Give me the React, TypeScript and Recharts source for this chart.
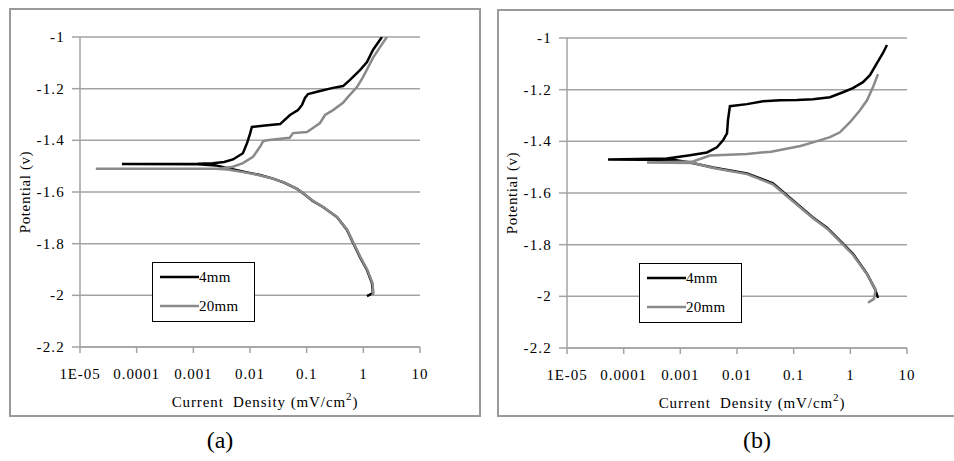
import React from 'react';
import { LineChart, Line, XAxis, YAxis, CartesianGrid, Legend } from 'recharts';

// ---- axis ticks & labels ----
const xTicks = [1e-5, 1e-4, 1e-3, 1e-2, 1e-1, 1, 10];
const xTickLabels = ['1E-05', '0.0001', '0.001', '0.01', '0.1', '1', '10'];
const yTicks = [-2.2, -2, -1.8, -1.6, -1.4, -1.2, -1];
const yTickLabels = ['-2.2', '-2', '-1.8', '-1.6', '-1.4', '-1.2', '-1'];
const seriesNames = ['4mm', '20mm'];
const seriesColors = ['#000000', '#8a8a8a'];
const panelCaptions = ['(a)', '(b)'];

// ---- panel (a), 4mm ----
const a4Current = [1.16, 1.48, 1.42, 1.16, 0.873, 0.66, 0.515, 0.343, 0.194, 0.128, 0.09, 0.0675, 0.04, 0.0255, 0.015, 0.00885, 0.0039, 0.0025, 0.0012, 0.000055, 0.0012, 0.0022, 0.0035, 0.005, 0.0075, 0.0089, 0.0100, 0.0108, 0.0184, 0.034, 0.0508, 0.0703, 0.0828, 0.0933, 0.1057, 0.172, 0.292, 0.438, 0.582, 0.873, 1.16, 1.48, 2.13];
const a4Potential = [-2.003, -1.991, -1.952, -1.902, -1.852, -1.797, -1.747, -1.697, -1.658, -1.635, -1.608, -1.588, -1.564, -1.548, -1.534, -1.524, -1.507, -1.497, -1.493, -1.492, -1.491, -1.489, -1.484, -1.474, -1.45, -1.41, -1.375, -1.348, -1.343, -1.337, -1.302, -1.283, -1.263, -1.236, -1.221, -1.209, -1.197, -1.19, -1.166, -1.128, -1.097, -1.05, -1.0];

// ---- panel (a), 20mm ----
const a20Current = [1.45, 1.5, 1.45, 1.18, 0.89, 0.67, 0.52, 0.345, 0.195, 0.125, 0.088, 0.065, 0.039, 0.024, 0.014, 0.0085, 0.004, 0.0025, 0.000019, 0.003, 0.005, 0.0075, 0.0113, 0.015, 0.017, 0.02, 0.05, 0.0575, 0.101, 0.129, 0.172, 0.211, 0.292, 0.438, 0.537, 0.773, 0.987, 1.48, 1.97, 2.61];
const a20Potential = [-2.0, -1.99, -1.952, -1.902, -1.852, -1.797, -1.747, -1.697, -1.658, -1.632, -1.606, -1.586, -1.562, -1.547, -1.534, -1.525, -1.513, -1.51, -1.51, -1.509, -1.502, -1.488, -1.464, -1.425, -1.404, -1.4, -1.39, -1.372, -1.368, -1.352, -1.333, -1.302, -1.283, -1.255, -1.232, -1.194, -1.155, -1.081, -1.039, -1.0];

// ---- panel (b), 4mm ----
const b4Current = [3.08, 2.72, 1.97, 1.11, 0.656, 0.387, 0.219, 0.0973, 0.0432, 0.015, 0.00377, 0.00148, 0.0008, 0.000053, 0.00058, 0.00148, 0.00295, 0.00443, 0.00566, 0.00666, 0.00693, 0.0075, 0.015, 0.0288, 0.0575, 0.1146, 0.219, 0.438, 0.741, 1.11, 1.67, 2.22, 2.95, 3.77, 4.43];
const b4Potential = [-2.006, -1.971, -1.913, -1.835, -1.784, -1.734, -1.695, -1.629, -1.563, -1.524, -1.501, -1.482, -1.472, -1.47, -1.466, -1.454, -1.443, -1.423, -1.396, -1.369, -1.318, -1.264, -1.256, -1.245, -1.241, -1.24, -1.237, -1.229, -1.21, -1.194, -1.171, -1.144, -1.097, -1.058, -1.027];

// ---- panel (b), 20mm ----
const b20Current = [2.05, 2.6, 2.8, 2.0, 1.12, 0.66, 0.39, 0.22, 0.097, 0.043, 0.015, 0.0038, 0.0017, 0.000258, 0.00167, 0.00334, 0.015, 0.04, 0.1318, 0.219, 0.438, 0.656, 0.987, 1.48, 1.97, 2.51, 3.08];
const b20Potential = [-2.025, -2.01, -1.975, -1.917, -1.84, -1.788, -1.738, -1.698, -1.632, -1.566, -1.527, -1.503, -1.484, -1.482, -1.478, -1.455, -1.449, -1.44, -1.418, -1.404, -1.384, -1.365, -1.326, -1.28, -1.241, -1.19, -1.14];

type Pt = { x: number; v: number };
const toPoints = (c: number[], p: number[]): Pt[] => c.map((x, i) => ({ x, v: p[i] }));

const panels = [
  { series: [toPoints(a4Current, a4Potential), toPoints(a20Current, a20Potential)] },
  { series: [toPoints(b4Current, b4Potential), toPoints(b20Current, b20Potential)] },
];

const FONT = "'Liberation Serif', serif";
const GRID = '#a3a3a3';
const txt = (size: number, ls: number) => ({ fontFamily: FONT, fontSize: size, letterSpacing: ls, fill: '#000' });

const fmtX = (v: number) => {
  const i = xTicks.findIndex((t) => Math.abs(Math.log10(t) - Math.log10(v)) < 1e-6);
  return i >= 0 ? xTickLabels[i] : String(v);
};
const fmtY = (v: number) => {
  const i = yTicks.findIndex((t) => Math.abs(t - v) < 1e-6);
  return i >= 0 ? yTickLabels[i] : String(v);
};

const XTick = (props: any) => {
  const { x, y, payload } = props;
  return (
    <text x={x} y={y + 12} textAnchor="middle" style={txt(15, 0.9)}>
      {fmtX(payload.value)}
    </text>
  );
};
const YTick = (props: any) => {
  const { x, y, payload } = props;
  return (
    <text x={x} y={y + 5} textAnchor="end" style={txt(15, 1.2)}>
      {fmtY(payload.value)}
    </text>
  );
};

const LegendBox = () => (
  <div
    style={{
      width: 103,
      height: 60,
      border: '1.5px solid #000',
      background: '#fff',
      boxSizing: 'border-box',
    }}
  >
    <svg width={100} height={57} style={{ display: 'block' }}>
      {seriesNames.map((n, i) => (
        <g key={n}>
          <line x1={7} x2={46} y1={14 + i * 29} y2={14 + i * 29} stroke={seriesColors[i]} strokeWidth={2.5} />
          <text x={46} y={19 + i * 29} style={txt(15, 0.3)}>
            {n}
          </text>
        </g>
      ))}
    </svg>
  </div>
);

const XLabel = (props: any) => {
  const vb = props.viewBox || { x: 70, y: 338, width: 340, height: 30 };
  return (
    <text
      x={vb.x + vb.width / 2 + 15}
      y={vb.y + 60}
      textAnchor="middle"
      style={{ ...txt(15, 0.9), whiteSpace: 'pre' }}
    >
      {'Current  Density (mV/cm'}
      <tspan dy={-7} style={{ fontSize: 11 }}>2</tspan>
      <tspan dy={7}>)</tspan>
    </text>
  );
};

const YLabel = (props: any) => {
  const vb = props.viewBox || { x: 0, y: 28, width: 70, height: 310 };
  const cx = vb.x + 15;
  const cy = vb.y + vb.height / 2;
  return (
    <text
      x={cx}
      y={cy + 5}
      transform={`rotate(-90, ${cx}, ${cy})`}
      textAnchor="middle"
      style={txt(15, 0.6)}
    >
      Potential (v)
    </text>
  );
};

const Panel = ({ idx }: { idx: number }) => {
  const p = panels[idx];
  return (
    <LineChart width={470} height={407} margin={{ top: 28, right: 60, left: 0, bottom: 39 }}>
      <CartesianGrid vertical={false} stroke={GRID} strokeWidth={1.5} />
      <XAxis
        dataKey="x"
        type="number"
        scale="log"
        domain={[1e-5, 10]}
        ticks={xTicks}
        allowDataOverflow
        height={30}
        tickSize={6}
        tickMargin={14}
        stroke={GRID}
        strokeWidth={1.5}
        tick={<XTick />}
        interval={0}
        label={<XLabel />}
      />
      <YAxis
        type="number"
        domain={[-2.2, -1]}
        ticks={yTicks}
        allowDataOverflow
        width={70}
        tickSize={8}
        tickMargin={7}
        stroke={GRID}
        strokeWidth={1.5}
        tick={<YTick />}
        interval={0}
        label={<YLabel />}
      />
      <Legend
        layout="vertical"
        align="center"
        verticalAlign="middle"
        content={() => <LegendBox />}
        wrapperStyle={{ left: 142, top: 253, width: 103, height: 60 }}
      />
      {p.series.map((s, i) => (
        <Line
          key={seriesNames[i]}
          name={seriesNames[i]}
          data={s}
          dataKey="v"
          type="linear"
          stroke={seriesColors[i]}
          strokeWidth={2.5}
          dot={false}
          activeDot={false}
          isAnimationActive={false}
        />
      ))}
    </LineChart>
  );
};

export default function App() {
  return (
    <div
      style={{
        position: 'absolute',
        left: 0,
        top: 0,
        width: 954,
        height: 461,
        overflow: 'hidden',
        background: '#fff',
        fontFamily: FONT,
      }}
    >
      <div style={{ position: 'absolute', left: 9, top: 8, width: 472, height: 409, border: '2px solid #9a9a9a', boxSizing: 'border-box' }} />
      <div style={{ position: 'absolute', left: 497, top: 9, width: 470, height: 408, border: '2px solid #9a9a9a', boxSizing: 'border-box' }} />
      <div style={{ position: 'absolute', left: 10, top: 9 }}>
        <Panel idx={0} />
      </div>
      <div style={{ position: 'absolute', left: 497, top: 10 }}>
        <Panel idx={1} />
      </div>
      {panelCaptions.map((c, i) => (
        <div
          key={c}
          style={{
            position: 'absolute',
            left: i === 0 ? 180 : 717,
            top: 426,
            width: 80,
            textAlign: 'center',
            fontSize: 24,
            lineHeight: '28px',
            fontFamily: FONT,
            color: '#000',
          }}
        >
          {c}
        </div>
      ))}
    </div>
  );
}
